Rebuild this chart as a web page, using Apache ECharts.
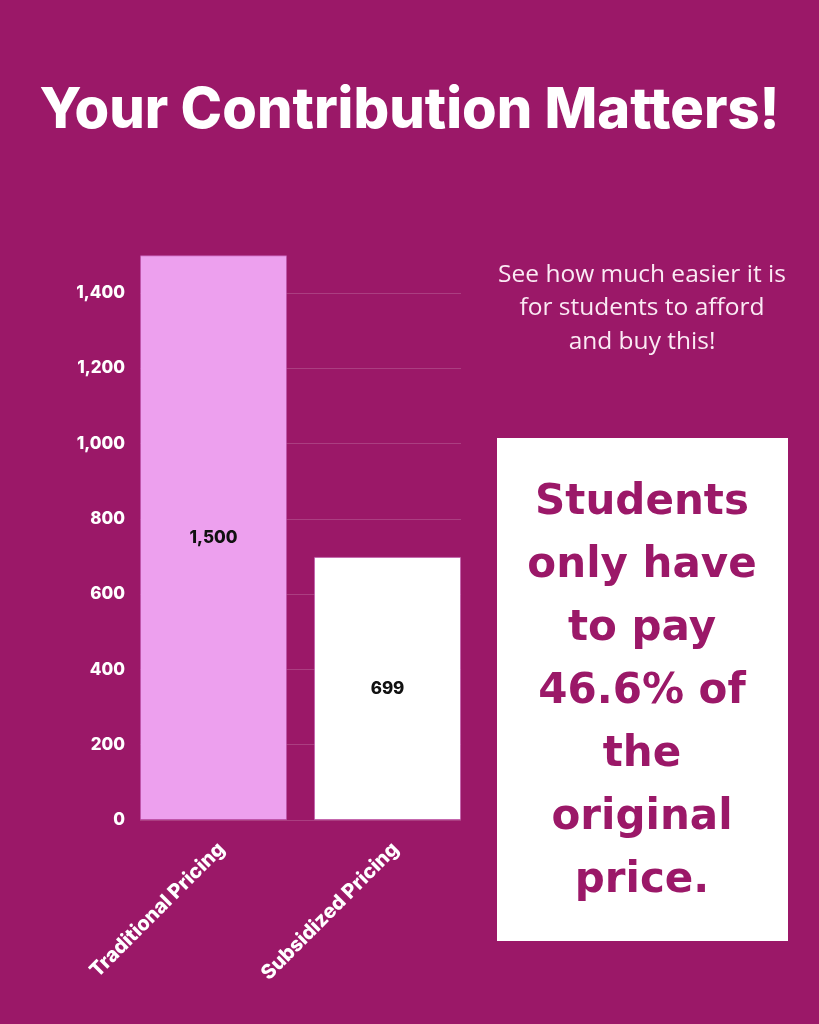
<!DOCTYPE html>
<html>
<head>
<meta charset="utf-8">
<script src="https://cdn.jsdelivr.net/npm/echarts@6/dist/echarts.min.js"></script>
<style>
  html, body { margin: 0; padding: 0; background: #9B1868; }
  #chart { width: 819px; height: 1024px; }
</style>
</head>
<body>
<div id="chart"></div>
<script>
// ---- data ----
const categories = ['Traditional Pricing', 'Subsidized Pricing'];
const values = [1500, 699];
const yTicks = [0, 200, 400, 600, 800, 1000, 1200, 1400];
const titleText = 'Your Contribution Matters!';
const noteLines = ['See how much easier it is', 'for students to afford', 'and buy this!'];
const boxLines = ['Students', 'only have', 'to pay', '46.6% of', 'the', 'original', 'price.'];

// ---- styles ----
const BG = '#9B1868';
const barColors = ['#EDA0EE', '#FFFFFF'];
const fmt = v => v.toLocaleString('en-US');

const chart = echarts.init(document.getElementById('chart'));
chart.setOption({
  backgroundColor: BG,
  animation: false,
  title: {
    text: titleText,
    left: 'center',
    top: 78,
    textStyle: { color: '#fff', fontFamily: 'Inter', fontWeight: 800, fontSize: 56 }
  },
  grid: [
    { left: 140, top: 293, width: 321, height: 527 },
    { left: 126.5, top: 293, width: 348, height: 527 },
    { left: 134.5, top: 293, width: 348, height: 527 }
  ],
  xAxis: [
    { gridIndex: 0, type: 'category', data: categories, show: false },
    { gridIndex: 1, type: 'category', data: categories, show: false },
    {
      gridIndex: 2, type: 'category', data: categories,
      axisLine: { show: false }, axisTick: { show: false },
      axisLabel: {
        rotate: 45, margin: 26, color: '#fff',
        fontFamily: 'Inter', fontWeight: 800, fontSize: 20, interval: 0
      }
    }
  ],
  yAxis: [
    {
      gridIndex: 0, type: 'value', min: yTicks[0], max: yTicks[yTicks.length - 1], interval: 200,
      axisLine: { show: false }, axisTick: { show: false },
      axisLabel: {
        color: '#fff', fontFamily: 'Inter', fontWeight: 800, fontSize: 17, margin: 15,
        formatter: v => fmt(v)
      },
      splitLine: { lineStyle: { color: 'rgba(255,255,255,0.17)', width: 1 } }
    },
    { gridIndex: 1, type: 'value', min: yTicks[0], max: yTicks[yTicks.length - 1], show: false },
    { gridIndex: 2, type: 'value', min: yTicks[0], max: yTicks[yTicks.length - 1], show: false }
  ],
  series: [{
    type: 'bar',
    xAxisIndex: 1, yAxisIndex: 1,
    clip: false,
    barWidth: 147,
    data: values.map((v, i) => ({
      value: v,
      itemStyle: { color: barColors[i], borderColor: 'rgba(190,80,170,0.6)', borderWidth: 1 }
    })),
    label: {
      show: true, position: 'inside', color: '#111',
      fontFamily: 'Inter', fontWeight: 800, fontSize: 17,
      formatter: p => fmt(p.value)
    }
  }],
  graphic: [
    {
      type: 'text', z: 10, x: 642, y: 258,
      style: {
        text: noteLines.join('\n'), align: 'center', verticalAlign: 'top',
        fill: '#FBEAF4', font: '400 24.5px "Open Sans"', lineHeight: 33.5
      }
    },
    {
      type: 'rect', z: 5,
      shape: { x: 497, y: 438, width: 291, height: 503 },
      style: { fill: '#FFFFFF' }
    },
    {
      type: 'text', z: 10,
      x: 642, y: 472,
      style: {
        text: boxLines.join('\n'), align: 'center', verticalAlign: 'top',
        fill: BG, font: 'bold 42px "DejaVu Sans"', lineHeight: 63
      }
    }
  ]
});
</script>
</body>
</html>
